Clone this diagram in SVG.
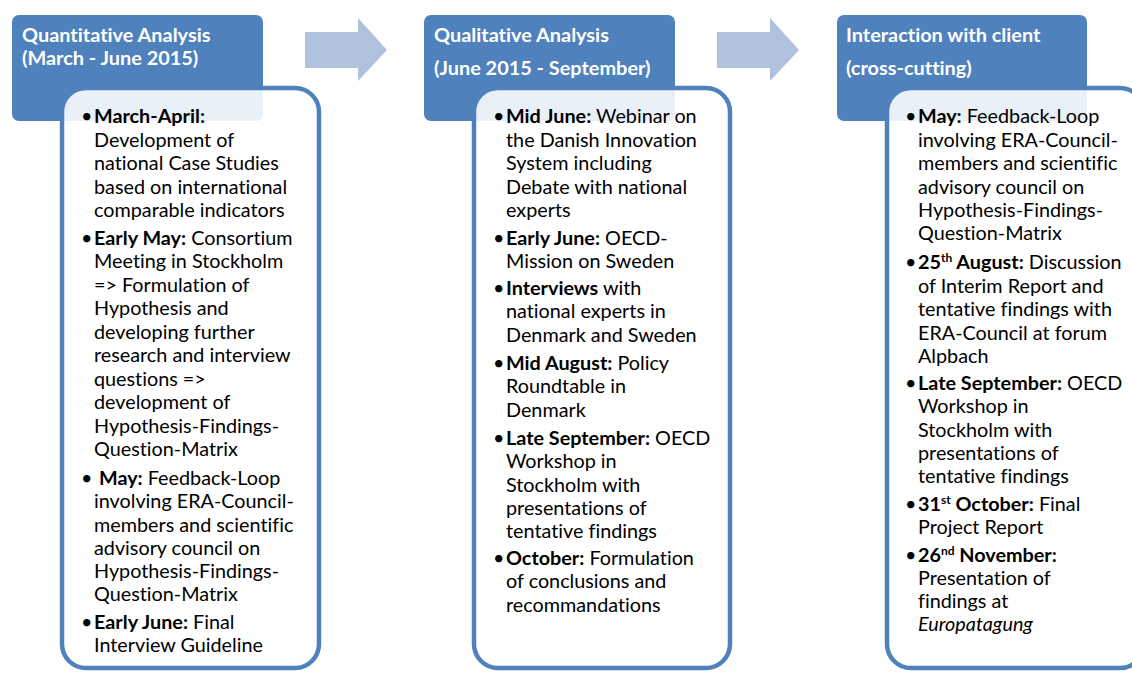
<svg xmlns="http://www.w3.org/2000/svg" width="1132" height="673" viewBox="0 0 1132 673">
<style>
.hdr{fill:#4F81BD;}
.box{fill:#FFFFFF;fill-opacity:0.88;stroke:#4F81BD;stroke-width:4.5;}
.ht{font-family:Lato,"Liberation Sans",sans-serif;font-weight:bold;font-size:19.9px;fill:#FFFFFF;font-variant-ligatures:none;}
.bt{font-family:Lato,"Liberation Sans",sans-serif;font-size:19.8px;fill:#000000;font-variant-ligatures:none;}
.b{font-weight:bold;}
.sup{font-size:12px;font-weight:bold;}
.arr{fill:#B0C1DD;}
</style>
<g id="connectors">
<polygon class="arr" points="305,32 358,32 358,18 387,50 358,81 358,68 305,68"/>
<polygon class="arr" points="717,32 770,32 770,18 799,50 770,81 770,68 717,68"/>
</g>
<g id="quantitative">
<rect class="hdr" x="12" y="15" width="251" height="106" rx="7"/>
<text class="ht" x="22" y="42">Quantitative Analysis</text>
<text class="ht" x="22" y="65">(March - June 2015)</text>
<rect class="box" x="62" y="88" width="257" height="580" rx="24"/>
<text class="bt">
<tspan x="81" y="123">•</tspan><tspan x="94" y="123" class="b">March-April:</tspan>
<tspan x="94" y="147">Development of</tspan>
<tspan x="94" y="170">national Case Studies</tspan>
<tspan x="94" y="194">based on international</tspan>
<tspan x="94" y="217">comparable indicators</tspan>
<tspan x="81" y="245">•</tspan><tspan x="94" y="245"><tspan class="b">Early May:</tspan> Consortium</tspan>
<tspan x="94" y="268">Meeting in Stockholm</tspan>
<tspan x="94" y="292">=&gt; Formulation of</tspan>
<tspan x="94" y="315">Hypothesis and</tspan>
<tspan x="94" y="339">developing further</tspan>
<tspan x="94" y="362">research and interview</tspan>
<tspan x="94" y="386">questions =&gt;</tspan>
<tspan x="94" y="409">development of</tspan>
<tspan x="94" y="433">Hypothesis-Findings-</tspan>
<tspan x="94" y="456">Question-Matrix</tspan>
<tspan x="81" y="485">•</tspan><tspan x="99" y="485"><tspan class="b">May:</tspan> Feedback-Loop</tspan>
<tspan x="94" y="508">involving ERA-Council-</tspan>
<tspan x="94" y="532">members and scientific</tspan>
<tspan x="94" y="555">advisory council on</tspan>
<tspan x="94" y="578">Hypothesis-Findings-</tspan>
<tspan x="94" y="601">Question-Matrix</tspan>
<tspan x="81" y="629">•</tspan><tspan x="94" y="629"><tspan class="b">Early June:</tspan> Final</tspan>
<tspan x="94" y="652">Interview Guideline</tspan>
</text>
</g>
<g id="qualitative">
<rect class="hdr" x="424" y="15" width="251" height="106" rx="7"/>
<text class="ht" x="434" y="42">Qualitative Analysis</text>
<text class="ht" x="434" y="75">(June 2015 - September)</text>
<rect class="box" x="474" y="88" width="256" height="580" rx="24"/>
<text class="bt">
<tspan x="493" y="123">•</tspan><tspan x="506" y="123"><tspan class="b">Mid June:</tspan> Webinar on</tspan>
<tspan x="506" y="147">the Danish Innovation</tspan>
<tspan x="506" y="170">System including</tspan>
<tspan x="506" y="194">Debate with national</tspan>
<tspan x="506" y="217">experts</tspan>
<tspan x="493" y="245">•</tspan><tspan x="506" y="245"><tspan class="b">Early June:</tspan> OECD-</tspan>
<tspan x="506" y="268">Mission on Sweden</tspan>
<tspan x="493" y="295">•</tspan><tspan x="506" y="295"><tspan class="b">Interviews</tspan> with</tspan>
<tspan x="506" y="318">national experts in</tspan>
<tspan x="506" y="342">Denmark and Sweden</tspan>
<tspan x="493" y="370">•</tspan><tspan x="506" y="370"><tspan class="b">Mid August:</tspan> Policy</tspan>
<tspan x="506" y="393">Roundtable in</tspan>
<tspan x="506" y="417">Denmark</tspan>
<tspan x="493" y="445">•</tspan><tspan x="506" y="445"><tspan class="b">Late September:</tspan> OECD</tspan>
<tspan x="506" y="468">Workshop in</tspan>
<tspan x="506" y="492">Stockholm with</tspan>
<tspan x="506" y="515">presentations of</tspan>
<tspan x="506" y="538">tentative findings</tspan>
<tspan x="493" y="565">•</tspan><tspan x="506" y="565"><tspan class="b">October:</tspan> Formulation</tspan>
<tspan x="506" y="588">of conclusions and</tspan>
<tspan x="506" y="612">recommandations</tspan>
</text>
</g>
<g id="interaction">
<rect class="hdr" x="837" y="15" width="250" height="106" rx="7"/>
<text class="ht" x="846" y="42">Interaction with client</text>
<text class="ht" x="846" y="75">(cross-cutting)</text>
<rect class="box" x="887" y="88" width="257" height="580" rx="24"/>
<text class="bt">
<tspan x="905" y="123">•</tspan><tspan x="918" y="123"><tspan class="b">May:</tspan> Feedback-Loop</tspan>
<tspan x="918" y="147">involving ERA-Council-</tspan>
<tspan x="918" y="170">members and scientific</tspan>
<tspan x="918" y="194">advisory council on</tspan>
<tspan x="918" y="217">Hypothesis-Findings-</tspan>
<tspan x="918" y="240">Question-Matrix</tspan>
<tspan x="905" y="269">•</tspan><tspan x="918" y="269"><tspan class="b">25</tspan><tspan class="sup" dy="-7">th</tspan><tspan class="b" dy="7"> August:</tspan> Discussion</tspan>
<tspan x="918" y="293">of Interim Report and</tspan>
<tspan x="918" y="316">tentative findings with</tspan>
<tspan x="918" y="340">ERA-Council at forum</tspan>
<tspan x="918" y="363">Alpbach</tspan>
<tspan x="905" y="390">•</tspan><tspan x="918" y="390"><tspan class="b">Late September:</tspan> OECD</tspan>
<tspan x="918" y="413">Workshop in</tspan>
<tspan x="918" y="437">Stockholm with</tspan>
<tspan x="918" y="460">presentations of</tspan>
<tspan x="918" y="483">tentative findings</tspan>
<tspan x="905" y="511">•</tspan><tspan x="918" y="511"><tspan class="b">31</tspan><tspan class="sup" dy="-7">st</tspan><tspan class="b" dy="7"> October:</tspan> Final</tspan>
<tspan x="918" y="534">Project Report</tspan>
<tspan x="905" y="562">•</tspan><tspan x="918" y="562"><tspan class="b">26</tspan><tspan class="sup" dy="-7">nd</tspan><tspan class="b" dy="7"> November:</tspan></tspan>
<tspan x="918" y="585">Presentation of</tspan>
<tspan x="918" y="608">findings at</tspan>
<tspan x="918" y="631" font-style="italic">Europatagung</tspan>
</text>
</g>
</svg>
